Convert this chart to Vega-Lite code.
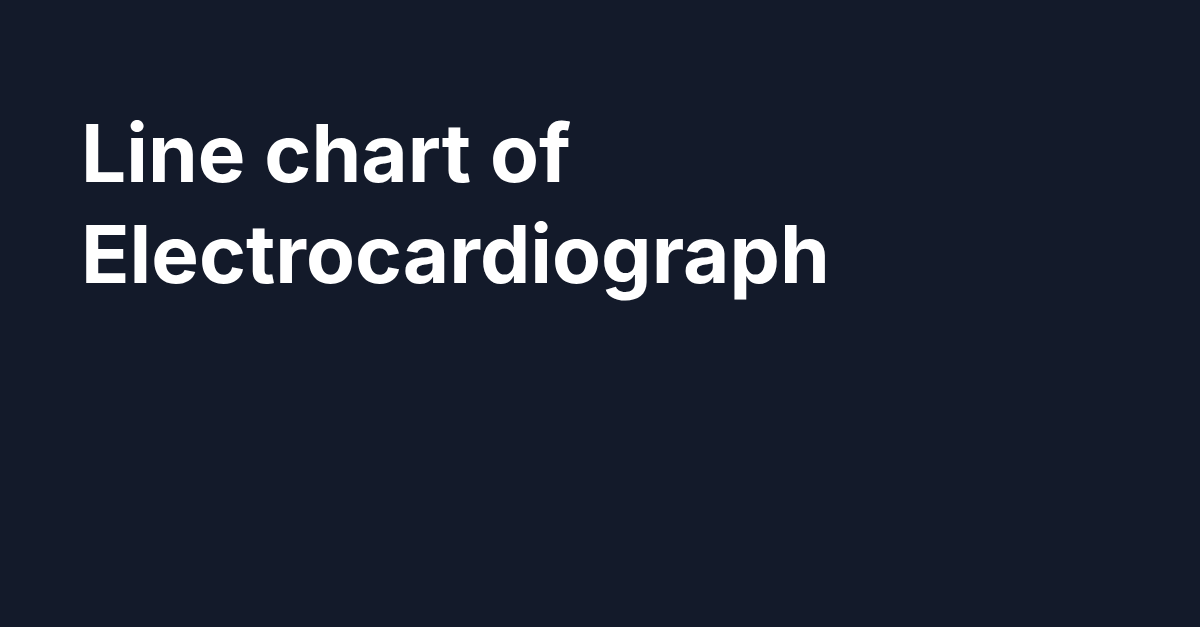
{
  "$schema": "https://vega.github.io/schema/vega-lite/v6.json",
  "width": 1200,
  "height": 627,
  "autosize": {"type": "fit", "contains": "padding"},
  "padding": {"left": 81, "top": 118, "right": 0, "bottom": 0},
  "background": "#131a2a",
  "title": {
    "text": ["Line chart of", "Electrocardiograph"],
    "anchor": "start",
    "frame": "group",
    "font": "Inter",
    "fontSize": 80,
    "fontWeight": 700,
    "color": "#ffffff",
    "lineHeight": 101,
    "offset": 0
  },
  "data": {"values": []},
  "mark": "point",
  "encoding": {},
  "config": {"view": {"stroke": null}}
}
